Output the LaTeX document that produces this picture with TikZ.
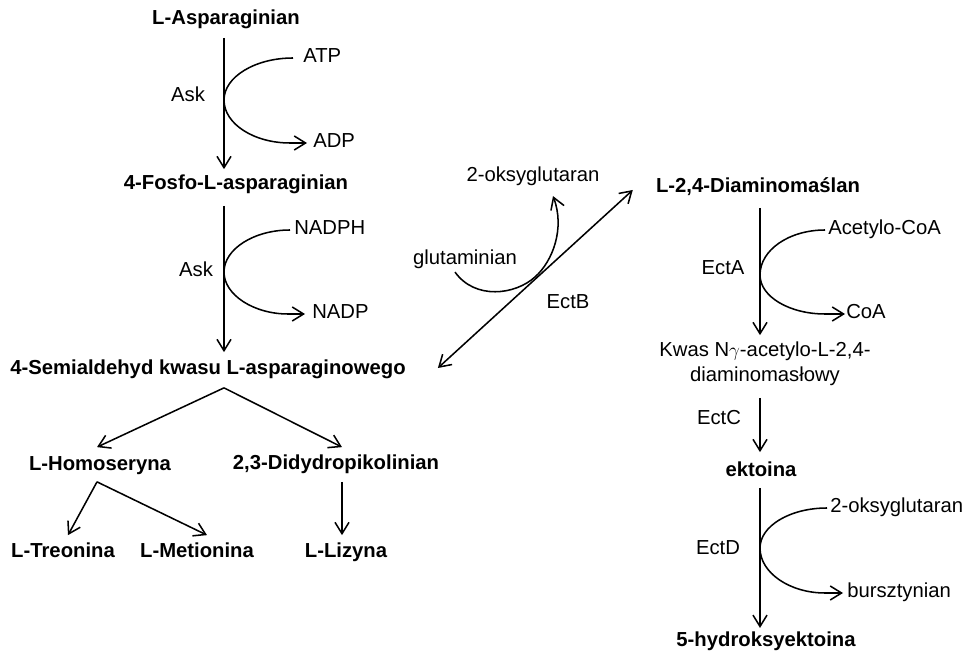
\documentclass[tikz,border=0pt]{standalone}
\usepackage{fontspec}
\setmainfont{Liberation Sans}
\usetikzlibrary{arrows.meta,calc}
\begin{document}
\begin{tikzpicture}[x=0.75pt,y=-0.75pt,
  lbl/.style={inner sep=0pt,text height=.72em,text depth=0pt,font=\fontsize{15.2}{18}\selectfont},
  bl/.style={lbl,font=\fontsize{15.2}{18}\selectfont\bfseries},
  tip/.tip={Straight Barb[length=8.5pt,width=10.5pt]},
  arr/.style={line width=1.15pt,-tip},
  darr/.style={line width=1.15pt,tip-tip}]
\useasboundingbox (0,0) rectangle (965,652);
% left column
\node[bl] (asp) at (226,20) {L-Asparaginian};
\node[bl] (fos) at (236,185) {4-Fosfo-L-asparaginian};
\node[bl] (sem) at (208,370) {4-Semialdehyd kwasu L-asparaginowego};
\node[bl] (hom) at (100,466) {L-Homoseryna};
\node[bl] (pik) at (336,465) {2,3-Didydropikolinian};
\node[bl] (tre) at (63,553) {L-Treonina};
\node[bl] (met) at (197,553) {L-Metionina};
\node[bl] (liz) at (346,553) {L-Lizyna};
\node[lbl,anchor=west] (atp) at (303,58) {ATP};
\node[lbl,anchor=west] (adp) at (313,143) {ADP};
\node[lbl] (ask1) at (188,97) {Ask};
\node[lbl,anchor=west] (nadph) at (294,230) {NADPH};
\node[lbl,anchor=west] (nadp) at (312,314) {NADP};
\node[lbl] (ask2) at (196,272) {Ask};
% middle
\node[lbl] (oks1) at (533,177) {2-oksyglutaran};
\node[lbl] (glu) at (465,260) {glutaminian};
\node[lbl] (ectb) at (568,304) {EctB};
% right column
\node[bl] (dia) at (758,188) {L-2,4-Diaminomaślan};
\node[lbl,anchor=west] (acoa) at (828,230) {Acetylo-CoA};
\node[lbl,anchor=west] (coa) at (846,314) {CoA};
\node[lbl] (ecta) at (723,270) {EctA};
\node[lbl] (kwa) at (765,352) {Kwas N$\gamma$-acetylo-L-2,4-};
\node[lbl] (kwb) at (765,377) {diaminomasłowy};
\node[lbl] (ectc) at (719,420) {EctC};
\node[bl] (ekt) at (761,472) {ektoina};
\node[lbl,anchor=west] (oks2) at (830,508) {2-oksyglutaran};
\node[lbl,anchor=west] (bur) at (847,593) {bursztynian};
\node[lbl] (ectd) at (718,550) {EctD};
\node[bl] (hyd) at (766,642) {5-hydroksyektoina};
% reference coordinates
\coordinate (c1) at (224,100);
\coordinate (c2) at (224,272);
\coordinate (c3) at (760,275);
\coordinate (c4) at (760,548);
% main vertical arrows
\draw[arr] ($(c1 |- asp.south)+(0,12.8)$) -- ($(c1 |- fos.north)+(0,-10.8)$);
\draw[arr] ($(c2 |- fos.south)+(0,15.8)$) -- ($(c2 |- sem.north)+(0,-12.8)$);
\draw[arr] ($(c3 |- dia.south)+(0,14.8)$) -- ($(c3 |- kwa.north)+(0,-11.8)$);
\draw[arr] ($(c3 |- kwb.south)+(0,15.8)$) -- ($(c3 |- ekt.north)+(0,-14.8)$);
\draw[arr] ($(c4 |- ekt.south)+(0,10.8)$) -- ($(c4 |- hyd.north)+(0,-9)$);
% side curves
\draw[arr] ($(atp.west)+(-10,0)$) .. controls (255,58) and (224,77) .. (c1)
  .. controls (224,124) and (254,143) .. (290,143) -- ($(adp.west)+(-6,0)$);
\draw[arr] ($(nadph.west)+(-4,0)$) .. controls (254,230) and (224,249) .. (c2)
  .. controls (224,295) and (254,314) .. (288,314) -- ($(nadp.west)+(-7,0)$);
\draw[arr] ($(acoa.west)+(-3,0)$) .. controls (789,230) and (760,250) .. (c3)
  .. controls (760,297) and (790,314) .. (825,314) -- ($(coa.west)+(-1,0)$);
\draw[arr] ($(oks2.west)+(-3,0)$) .. controls (790,508) and (760,526) .. (c4)
  .. controls (760,573) and (790,593) .. (825,593) -- ($(bur.west)+(-4,0)$);
% branches
\coordinate (s1) at ($(sem.south)+(16,12.8)$);
\draw[arr] (s1) -- ($(hom.north)+(-3,-13.8)$);
\draw[arr] (s1) -- ($(pik.north)+(6,-12.8)$);
\coordinate (s2) at ($(hom.south)+(-3,10.8)$);
\draw[arr] (s2) -- ($(tre.north)+(5,-12.8)$);
\draw[arr] (s2) -- ($(met.north)+(10,-12.8)$);
\draw[arr] ($(pik.south)+(6,11.8)$) -- ($(liz.north)+(-4,-12.8)$);
% EctB
\draw[darr] ($(sem.east)+(32,-2)$) -- ($(dia.west)+(-23,2)$);
\draw[arr] ($(glu.south)+(-10,7)$) .. controls (475,300) and (515,295) .. (535,277)
  .. controls (553,261) and (565,228) .. ($(oks1.south)+(20,14)$);
\end{tikzpicture}
\end{document}
